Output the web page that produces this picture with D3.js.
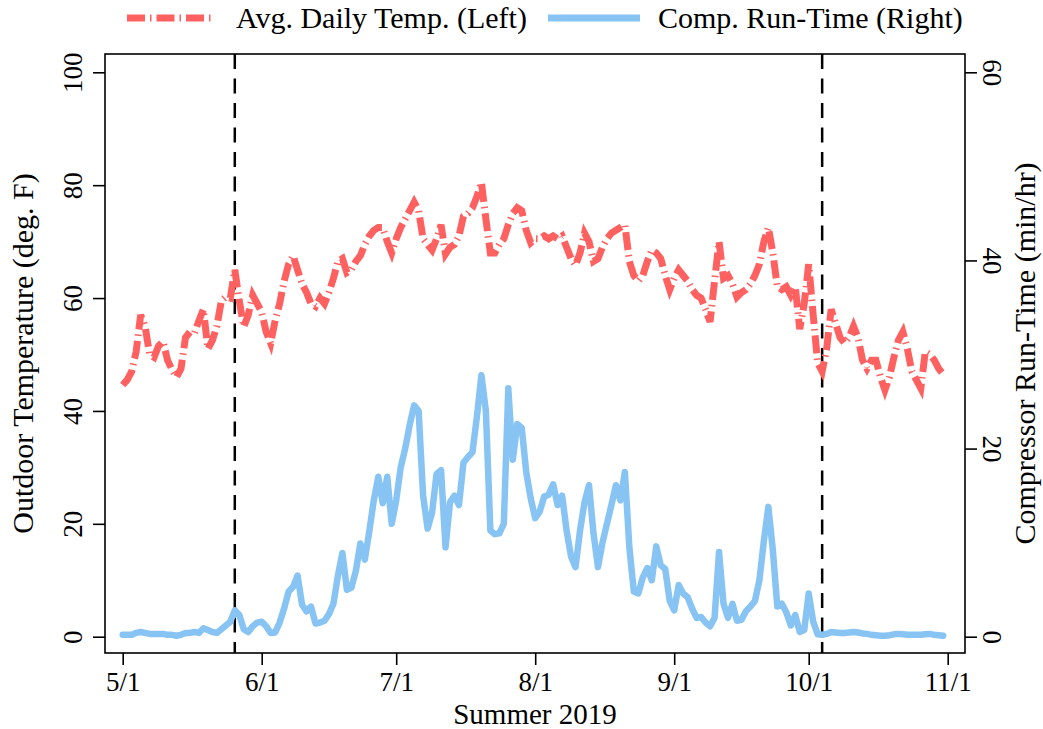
<!DOCTYPE html>
<html>
<head>
<meta charset="utf-8">
<script src="https://cdn.jsdelivr.net/npm/d3@7"></script>
<style>
  body { margin: 0; background: #fff; }
  svg text { font-family: "Liberation Serif", "Times New Roman", serif; fill: #000; }
</style>
</head>
<body>
<svg id="chart" width="1043" height="729"></svg>
<script>
// Daily series, 1 May 2019 through 31 Oct 2019
const startDay = "2019-05-01";

// Average daily outdoor temperature, deg F (left axis)
const tempF = [
  44.6, 45.5, 47, 50.5, 57, 55, 50, 49.5, 51.5, 52.3,
  49, 47.3, 46, 47.5, 53, 54, 53.8, 56, 58, 51,
  52.5, 55, 59.5, 60.2, 60, 65, 59.5, 54.9, 57, 60.5,
  59, 57.5, 54, 52, 56, 59, 63, 66, 67.5, 65,
  62.5, 61, 59, 58.5, 60, 59, 61, 63.5, 66.5, 67,
  64.5, 65, 66.5, 67.5, 69.5, 71, 72, 72.5, 72.5, 70,
  68, 70.5, 72.5, 74, 75.5, 77, 75.5, 70.5, 69.5, 68.5,
  70.5, 73, 67.8, 69, 69.5, 71, 74.5, 75, 76, 78,
  80.5, 74, 68, 68, 69.5, 70.5, 73, 75, 76, 75.5,
  72, 69.8, 70.5, 70.5, 71, 70.5, 71, 70.5, 71, 69,
  67, 65.8, 68, 71.5, 70, 66.5, 67, 69, 70.5, 71.5,
  72, 72.5, 73, 66.5, 64, 63, 64, 66.5, 68.5, 68,
  67, 64, 61.5, 63.5, 65, 64, 63, 61.5, 60.5, 60,
  58, 55.8, 63, 70, 63.5, 64, 62.5, 60.2, 61, 61.5,
  62.5, 64, 66, 70, 72.5, 68, 62, 61.5, 62, 60.5,
  62, 54.5, 59, 66, 57, 48.5, 47, 51, 58, 55.5,
  53, 52, 53, 55, 53, 49, 47.5, 49, 49, 46,
  43.7, 46, 49.5, 52.5, 54, 51, 47, 45.5, 44, 50.5,
  50, 49, 47.5, 46.5
];

// Compressor run-time, min/hr (right axis)
const runTime = [
  0.2, 0.2, 0.2, 0.4, 0.5, 0.4, 0.3, 0.3, 0.3, 0.3,
  0.2, 0.2, 0.1, 0.2, 0.4, 0.4, 0.5, 0.4, 0.9, 0.7,
  0.5, 0.4, 0.8, 1.2, 1.6, 2.8, 2.3, 0.8, 0.5, 1.1,
  1.5, 1.6, 1.1, 0.4, 0.45, 1.5, 3.0, 4.8, 5.3, 6.5,
  3.4, 2.7, 3.2, 1.4, 1.5, 1.7, 2.4, 3.5, 6.5, 8.9,
  5.0, 5.2, 7.0, 9.9, 8.2, 11.2, 14.5, 17.0, 14.2, 17.0,
  12.0, 14.5, 18.0, 20.0, 22.5, 24.6, 24.0, 15.0, 11.5, 13.2,
  17.3, 17.7, 9.5, 14.3, 15.0, 14.0, 18.5, 19.1, 19.6, 23.4,
  27.8, 24.0, 11.3, 10.9, 11.0, 12.0, 26.4, 18.8, 22.6, 22.2,
  17.5, 14.7, 12.6, 13.3, 14.9, 15.1, 16.2, 14.0, 15.0, 11.3,
  8.5, 7.4, 11.3, 14.3, 16.1, 11.0, 7.4, 10.0, 12.0, 14.0,
  16.1, 14.5, 17.5, 9.5, 4.8, 4.6, 6.3, 7.3, 6.0, 9.6,
  7.6, 7.2, 3.8, 2.8, 5.5, 4.6, 4.2, 3.0, 2.0, 2.1,
  1.5, 1.1, 2.0, 9.0, 3.5, 2.0, 3.5, 1.7, 1.8, 2.7,
  3.2, 3.8, 6.0, 10.2, 13.8, 9.2, 3.2, 3.5, 2.6, 1.2,
  2.3, 0.5, 0.7, 4.6, 1.6, 0.25, 0.2, 0.3, 0.5, 0.45,
  0.4, 0.4, 0.45, 0.5, 0.45, 0.35, 0.3, 0.2, 0.15, 0.1,
  0.1, 0.15, 0.25, 0.3, 0.25, 0.2, 0.2, 0.2, 0.2, 0.25,
  0.3, 0.2, 0.15, 0.1
];

const xTickDates = ["2019-05-01", "2019-06-01", "2019-07-01", "2019-08-01",
                    "2019-09-01", "2019-10-01", "2019-11-01"];
const leftTicks = [0, 20, 40, 60, 80, 100];
const rightTicks = [0, 20, 40, 60];
const markerDates = ["2019-05-26", "2019-10-04"];
const seriesNames = ["Avg. Daily Temp. (Left)", "Comp. Run-Time (Right)"];
const axisTitles = { x: "Summer 2019", left: "Outdoor Temperature (deg. F)", right: "Compressor Run-Time (min/hr)" };

const RED = "#ff6161";
const BLUE = "#88c4f3";
const TEMP_DASH = "18,5,1.5,5";

const parse = d3.utcParse("%Y-%m-%d");
const day0 = parse(startDay);
const days = d3.utcDay.range(day0, d3.utcDay.offset(day0, tempF.length));

const svg = d3.select("#chart");
const box = { l: 105, r: 965, t: 54, b: 653 };

const x = d3.scaleUtc()
  .domain([parse("2019-05-01"), parse("2019-11-01")])
  .range([122.7, 947.7]);
const yL = d3.scaleLinear().domain([0, 100]).range([636.7, 72.3]);
const yR = d3.scaleLinear().domain([0, 60]).range([636.7, 72.3]);

// Season boundary markers
svg.append("g").selectAll("line")
  .data(markerDates.map(parse))
  .join("line")
  .attr("x1", d => x(d)).attr("x2", d => x(d))
  .attr("y1", box.t).attr("y2", box.b)
  .attr("stroke", "#000").attr("stroke-width", 2.5)
  .attr("stroke-dasharray", "15,9.5");

// Temperature (left axis)
const tempLine = d3.line().x((d, i) => x(days[i])).y(d => yL(d));
svg.append("path")
  .datum(tempF)
  .attr("d", tempLine)
  .attr("fill", "none")
  .attr("stroke", RED)
  .attr("stroke-width", 7)
  .attr("stroke-dasharray", TEMP_DASH);

// Run-time (right axis)
const runLine = d3.line().x((d, i) => x(days[i])).y(d => yR(d));
svg.append("path")
  .datum(runTime)
  .attr("d", runLine)
  .attr("fill", "none")
  .attr("stroke", BLUE)
  .attr("stroke-width", 6.5)
  .attr("stroke-linejoin", "round")
  .attr("stroke-linecap", "round");

// Plot frame
svg.append("rect")
  .attr("x", box.l).attr("y", box.t)
  .attr("width", box.r - box.l).attr("height", box.b - box.t)
  .attr("fill", "none").attr("stroke", "#000").attr("stroke-width", 1.6);

function styleAxis(g) {
  g.select(".domain").remove();
  g.selectAll(".tick line").attr("stroke", "#000").attr("stroke-width", 1.6);
  g.selectAll(".tick text").attr("font-size", 27).attr("fill", "#000")
    .attr("font-family", "Liberation Serif, Times New Roman, serif");
}

// Left axis: labels turned to read upward
const gL = svg.append("g").attr("transform", `translate(${box.l},0)`)
  .call(d3.axisLeft(yL).tickValues(leftTicks).tickSize(12).tickSizeOuter(0));
styleAxis(gL);
gL.selectAll(".tick text")
  .attr("transform", "rotate(-90)")
  .attr("x", 0).attr("y", -23.5).attr("dy", 0)
  .attr("text-anchor", "middle");

// Right axis: labels turned to read downward
const gR = svg.append("g").attr("transform", `translate(${box.r},0)`)
  .call(d3.axisRight(yR).tickValues(rightTicks).tickSize(12).tickSizeOuter(0));
styleAxis(gR);
gR.selectAll(".tick text")
  .attr("transform", "rotate(90)")
  .attr("x", 0).attr("y", -17.5).attr("dy", 0)
  .attr("text-anchor", "middle");

// Bottom axis
const fmt = d3.utcFormat("%-m/%-d");
const gB = svg.append("g").attr("transform", `translate(0,${box.b})`)
  .call(d3.axisBottom(x).tickValues(xTickDates.map(parse)).tickFormat(fmt)
    .tickSize(12).tickSizeOuter(0));
styleAxis(gB);
gB.selectAll(".tick text").attr("y", 37.5).attr("dy", 0);

// Axis titles
svg.append("text").attr("x", 535).attr("y", 724)
  .attr("text-anchor", "middle").attr("font-size", 29).text(axisTitles.x);
svg.append("text")
  .attr("transform", `translate(33,${(box.t + box.b) / 2}) rotate(-90)`)
  .attr("text-anchor", "middle").attr("font-size", 30).text(axisTitles.left);
svg.append("text")
  .attr("transform", `translate(1035,${(box.t + box.b) / 2}) rotate(-90)`)
  .attr("text-anchor", "middle").attr("font-size", 30).text(axisTitles.right);

// Legend
const legend = svg.append("g");
const legendItems = [
  { name: seriesNames[0], color: RED, dash: TEMP_DASH, x0: 127, x1: 213, tx: 236 },
  { name: seriesNames[1], color: BLUE, dash: null, x0: 548, x1: 640, tx: 658 }
];
legendItems.forEach(it => {
  legend.append("line")
    .attr("x1", it.x0).attr("x2", it.x1).attr("y1", 18).attr("y2", 18)
    .attr("stroke", it.color).attr("stroke-width", 7)
    .attr("stroke-dasharray", it.dash);
  legend.append("text").attr("x", it.tx).attr("y", 28)
    .attr("font-size", 30).text(it.name);
});
</script>
</body>
</html>
